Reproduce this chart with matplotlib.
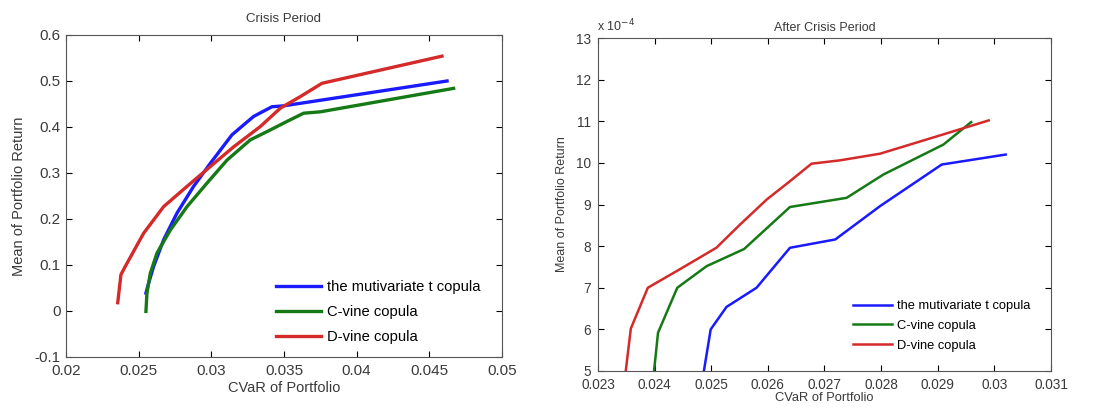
import numpy as np
import matplotlib.pyplot as plt

plt.rcParams["font.family"] = ["Liberation Sans", "DejaVu Sans"]

# Crisis period efficient frontiers (CVaR vs mean return)
crisis_t_cvar = [0.02550, 0.02569, 0.02603, 0.02672, 0.02764, 0.02878, 0.02993, 0.03142, 0.03291, 0.03417, 0.03498, 0.04622]
crisis_t_mean = [0.039, 0.061, 0.097, 0.155, 0.213, 0.271, 0.321, 0.383, 0.423, 0.444, 0.446, 0.500]
crisis_c_cvar = [0.02550, 0.02557, 0.02580, 0.02626, 0.02718, 0.02833, 0.02970, 0.03108, 0.03268, 0.03383, 0.03520, 0.03635, 0.03750, 0.04667]
crisis_c_mean = [-0.001, 0.039, 0.082, 0.126, 0.176, 0.227, 0.278, 0.328, 0.372, 0.390, 0.412, 0.430, 0.433, 0.484]
crisis_d_cvar = [0.02356, 0.02378, 0.02408, 0.02534, 0.02672, 0.02833, 0.02993, 0.03154, 0.03337, 0.03475, 0.03612, 0.03761, 0.04587]
crisis_d_mean = [0.018, 0.079, 0.097, 0.169, 0.227, 0.271, 0.314, 0.357, 0.401, 0.441, 0.466, 0.495, 0.554]

# After crisis period, mean return in units of 1e-4
after_t_cvar = [0.02487, 0.02499, 0.02527, 0.02580, 0.02639, 0.02719, 0.02798, 0.02907, 0.03020]
after_t_mean = [5.0, 6.0, 6.54, 7.0, 7.96, 8.16, 8.96, 9.96, 10.2]
after_c_cvar = [0.02399, 0.02406, 0.02440, 0.02492, 0.02558, 0.02639, 0.02739, 0.02804, 0.02910, 0.02959]
after_c_mean = [5.0, 5.92, 7.0, 7.52, 7.93, 8.94, 9.16, 9.72, 10.44, 10.98]
after_d_cvar = [0.02349, 0.02358, 0.02388, 0.02444, 0.02509, 0.02551, 0.02598, 0.02639, 0.02677, 0.02727, 0.02798, 0.02904, 0.02990]
after_d_mean = [5.0, 6.02, 7.0, 7.44, 7.96, 8.52, 9.12, 9.56, 9.98, 10.06, 10.22, 10.66, 11.02]

labels = ["the mutivariate t copula", "C-vine copula", "D-vine copula"]
colors = ["#1a1aff", "#157a15", "#d42a2a"]
text_col = "#3a3a3a"

fig = plt.figure(figsize=(11, 4.08), dpi=100)
ax1 = fig.add_axes([66 / 1100, 51 / 408, 436 / 1100, 322 / 408])
ax2 = fig.add_axes([598 / 1100, 37 / 408, 453 / 1100, 333 / 408])

# left panel
ax1.plot(crisis_t_cvar, crisis_t_mean, color=colors[0], lw=2.4, label=labels[0])
ax1.plot(crisis_c_cvar, crisis_c_mean, color=colors[1], lw=2.4, label=labels[1])
ax1.plot(crisis_d_cvar, crisis_d_mean, color=colors[2], lw=2.4, label=labels[2])
ax1.set_xlim(0.02, 0.05)
ax1.set_ylim(-0.1, 0.6)
ax1.set_xticks(np.arange(0.02, 0.0501, 0.005))
ax1.set_xticklabels(["0.02", "0.025", "0.03", "0.035", "0.04", "0.045", "0.05"])
ax1.set_yticks(np.arange(-0.1, 0.601, 0.1))
ax1.set_yticklabels(["-0.1", "0", "0.1", "0.2", "0.3", "0.4", "0.5", "0.6"])
ax1.tick_params(direction="in", top=True, right=True, labelsize=11, length=4,
                labelcolor=text_col)
ax1.tick_params(axis="x", pad=5)
ax1.tick_params(axis="y", pad=4)
ax1.set_title("Crisis Period", fontsize=9.5, color=text_col, pad=9)
ax1.set_xlabel("CVaR of Portfolio", fontsize=10.5, color=text_col, labelpad=2)
ax1.set_ylabel("Mean of Portfolio Return", fontsize=10.5, color=text_col, labelpad=6)
ax1.legend(loc="lower right", frameon=False, fontsize=10.6, handlelength=3.1,
           handletextpad=0.35, labelspacing=0.75, borderaxespad=0.5,
           bbox_to_anchor=(0.98, 0.0))

# right panel
ax2.plot(after_t_cvar, after_t_mean, color=colors[0], lw=1.8, label=labels[0])
ax2.plot(after_c_cvar, after_c_mean, color=colors[1], lw=1.8, label=labels[1])
ax2.plot(after_d_cvar, after_d_mean, color=colors[2], lw=1.8, label=labels[2])
ax2.set_xlim(0.023, 0.031)
ax2.set_ylim(5, 13)
ax2.set_xticks(np.arange(0.023, 0.03101, 0.001))
ax2.set_xticklabels(["0.023", "0.024", "0.025", "0.026", "0.027", "0.028", "0.029", "0.03", "0.031"])
ax2.set_yticks(range(5, 14))
ax2.tick_params(direction="in", top=True, right=True, labelsize=9.8, length=4,
                labelcolor=text_col)
ax2.tick_params(axis="x", pad=5)
ax2.tick_params(axis="y", pad=5)
ax2.text(-0.002, 1.01, r"x 10$^{-4}$", transform=ax2.transAxes, fontsize=9, color=text_col,
         ha="left", va="bottom")
ax2.set_title("After Crisis Period", fontsize=9, color=text_col, pad=5)
ax2.set_xlabel("CVaR of Portfolio", fontsize=9.3, color=text_col, labelpad=0)
ax2.set_ylabel("Mean of Portfolio Return", fontsize=9, color=text_col, labelpad=6)
ax2.legend(loc="lower right", frameon=False, fontsize=9.3, handlelength=3.0,
           handletextpad=0.4, labelspacing=0.6, borderaxespad=1.2,
           bbox_to_anchor=(1.0, -0.004))

for ax in (ax1, ax2):
    for spine in ax.spines.values():
        spine.set_color("#555555")

fig.savefig("out.png", dpi=100)
